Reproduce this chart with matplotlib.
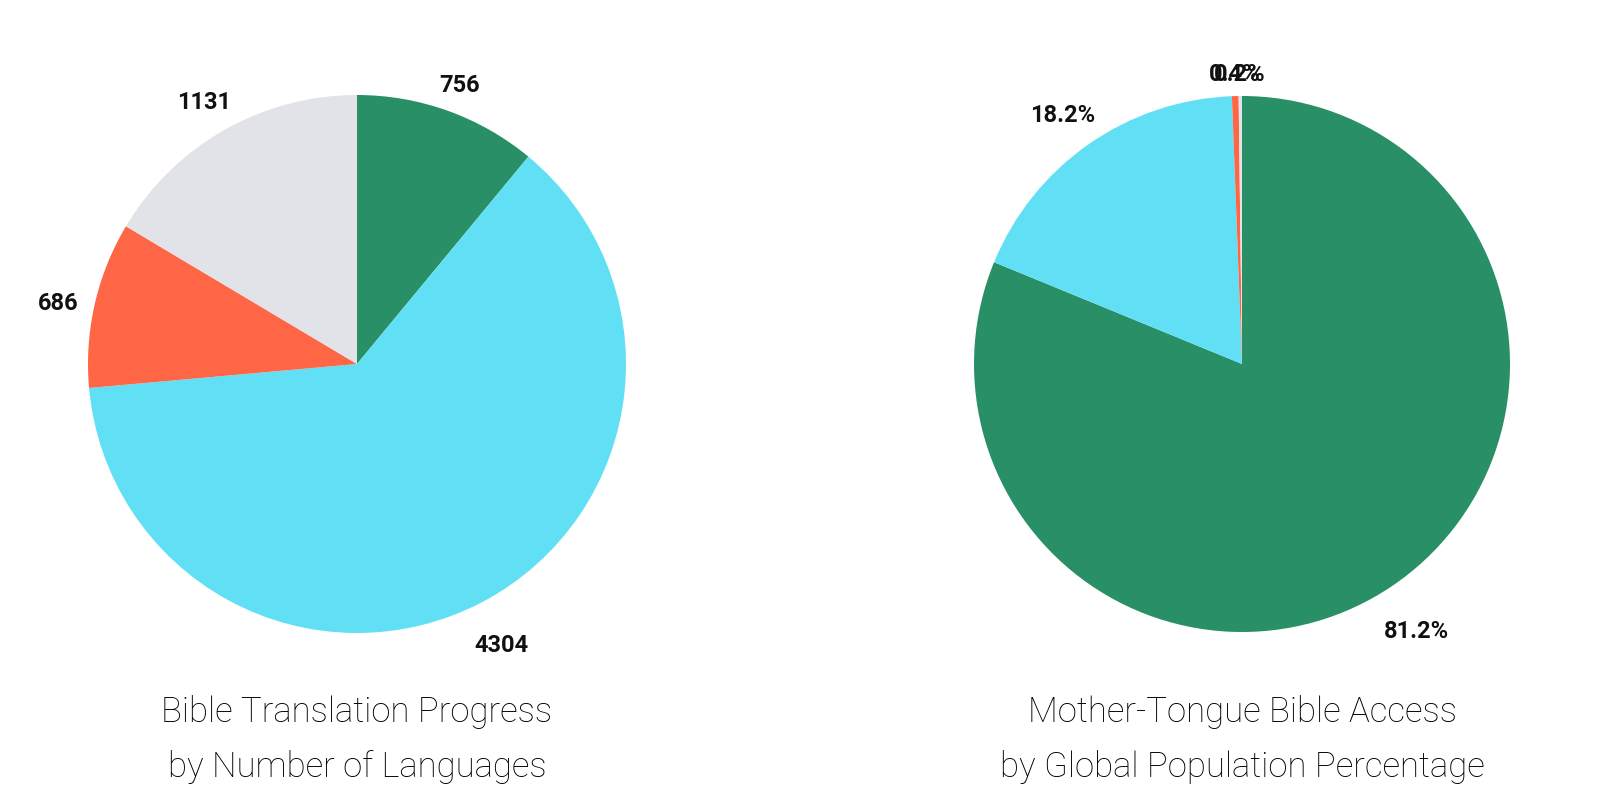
import numpy as np
import matplotlib
matplotlib.use("Agg")
import matplotlib.pyplot as plt

# left pie: number of languages
lang_counts = [756, 4304, 686, 1131]
lang_labels = ["756", "4304", "686", "1131"]

# right pie: share of world population
pop_share = [81.2, 18.2, 0.4, 0.2]
pop_labels = ["81.2%", "18.2%", "0.4%", "0.2%"]

colors = ["#288f66", "#61e0f5", "#ff6645", "#e1e3e8"]

titles = [["Bible Translation Progress", "by Number of Languages"],
          ["Mother-Tongue Bible Access", "by Global Population Percentage"]]

title_font = ["Roboto", "DejaVu Sans"]
label_font = ["Roboto", "DejaVu Sans"]

fig = plt.figure(figsize=(16, 8), dpi=100)
renderer = fig.canvas.get_renderer()

# pie centre and radius in pixels (from top-left)
boxes = [(357, 364, 269), (1242, 364, 268)]
data = [(lang_counts, lang_labels), (pop_share, pop_labels)]

for (cx, cy, r), (vals, labs), title in zip(boxes, data, titles):
    ax = fig.add_axes([(cx - r) / 1600, (800 - cy - r) / 800, 2 * r / 1600, 2 * r / 800])
    wedges, _ = ax.pie(vals, colors=colors, startangle=90, counterclock=False,
                       wedgeprops=dict(linewidth=0))
    ax.set_xlim(-1.2, 1.2)
    ax.set_ylim(-1.2, 1.2)
    ax.set_xlim(-1, 1)
    ax.set_ylim(-1, 1)
    ax.axis("off")

    # labels sit just outside the rim, pushed out by their own box size
    for w, lab in zip(wedges, labs):
        ang = np.deg2rad((w.theta1 + w.theta2) / 2)
        c, s = np.cos(ang), np.sin(ang)
        t = ax.text(0, 0, lab, ha="center", va="center", fontsize=17,
                    fontweight="bold", family=label_font, color="#111111")
        bb = t.get_window_extent(renderer)
        ext = bb.width / 2 * abs(c) + 14 * abs(s)
        d = 1 + (15 + ext) / r
        t.set_position((c * d, s * d - 8 / r))

    for line, y in zip(title, [712, 767]):
        fig.text(cx / 1600, 1 - y / 800, line, ha="center", va="center",
                 fontsize=25, family=title_font, fontweight="light",
                 color="#000000")

fig.savefig("out.png", dpi=100, facecolor="white")
